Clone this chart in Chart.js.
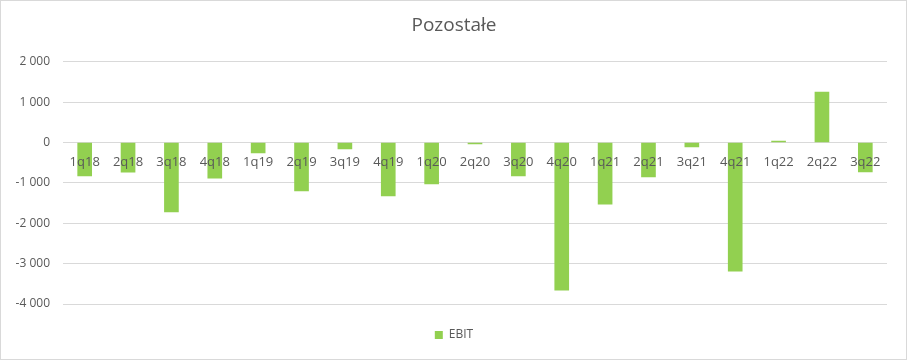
<!DOCTYPE html>
<html><head><meta charset="utf-8">
<script src="https://cdn.jsdelivr.net/npm/chart.js@4"></script>
<style>
html,body{margin:0;padding:0;background:#fff;}
#wrap{position:absolute;left:0;top:0;width:905px;height:358px;border:1px solid #d9d9d9;}
</style></head><body>
<div id="wrap"><canvas id="c" width="905" height="358"></canvas></div>
<script>
const categories = ["1q18","2q18","3q18","4q18","1q19","2q19","3q19","4q19","1q20","2q20","3q20","4q20","1q21","2q21","3q21","4q21","1q22","2q22","3q22"];
const ebit = [-830,-735,-1720,-880,-255,-1200,-160,-1325,-1025,-35,-830,-3655,-1525,-850,-110,-3185,35,1250,-730];
const yTicks = [-4000,-3000,-2000,-1000,0,1000,2000];

const FONT = "'Open Sans', 'Liberation Sans', sans-serif";
const GREY = '#595959';
function fmt(v){
  const s = Math.abs(v).toString().replace(/\B(?=(\d{3})+(?!\d))/g,' ');
  return (v<0?'-':'')+s;
}
new Chart(document.getElementById('c'), {
  type: 'bar',
  data: {
    labels: categories,
    datasets: [{label:'EBIT', data: ebit, backgroundColor:'#92d050', borderWidth:0, barThickness:14, xAxisID:'x', yAxisID:'y'}]
  },
  options: {
    responsive:false, animation:false,
    layout:{padding:{left:1,right:0,top:0,bottom:8}},
    plugins:{
      title:{display:true,text:'Pozostałe',color:GREY,font:{family:FONT,size:19,weight:'normal'},padding:{top:13,bottom:25}},
      legend:{position:'bottom',labels:{boxWidth:8,boxHeight:8,color:GREY,font:{family:FONT,size:12},padding:10}},
      tooltip:{enabled:false}
    },
    scales:{
      x:{position:{y:0},grid:{display:false,drawTicks:false},border:{display:false},
         ticks:{z:1,color:GREY,font:{family:FONT,size:13},padding:12,maxRotation:0,autoSkip:false}},
      xpad:{type:'category',position:'bottom',display:true,grid:{display:false,drawTicks:false},border:{display:false},
         ticks:{display:false},afterFit:(s)=>{s.height=15;}},
      y:{min:-4000,max:2000,afterFit:(s)=>{s.width=61;},
         afterBuildTicks:(s)=>{s.ticks=yTicks.map(v=>({value:v}));},
         grid:{color:'#d9d9d9',drawTicks:false},border:{display:false},
         ticks:{color:GREY,font:{family:FONT,size:12},padding:13,callback:(v)=>fmt(v)}},
      ypad:{type:'linear',position:'right',display:true,grid:{display:false,drawTicks:false},border:{display:false},
         ticks:{display:false},afterFit:(s)=>{s.width=19;}}
    }
  }
});
</script></body></html>
